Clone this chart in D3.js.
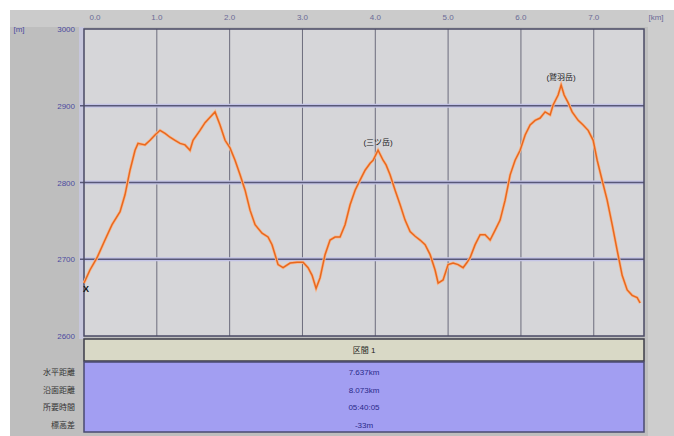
<!DOCTYPE html>
<html>
<head>
<meta charset="utf-8">
<script src="https://cdn.jsdelivr.net/npm/d3@7"></script>
<style>
  body { margin: 0; background: #fff; }
  text { font-family: "Liberation Sans", "Noto Sans CJK JP", sans-serif; }
</style>
</head>
<body>
<div id="chartDiv"></div>
<script>
// distance along route (km) and elevation (m)
var distKm = [0.000, 0.082, 0.179, 0.288, 0.385, 0.495, 0.563, 0.632, 0.701, 0.742,
              0.838, 0.907, 0.975, 1.044, 1.113, 1.181, 1.250, 1.319, 1.387, 1.456,
              1.497, 1.593, 1.662, 1.731, 1.799, 1.868, 1.937, 2.005, 2.074, 2.143,
              2.212, 2.280, 2.349, 2.445, 2.527, 2.582, 2.665, 2.734, 2.830, 2.926,
              3.008, 3.077, 3.132, 3.187, 3.242, 3.310, 3.379, 3.448, 3.516, 3.585,
              3.654, 3.723, 3.791, 3.860, 3.929, 3.970, 4.038, 4.107, 4.148, 4.203,
              4.272, 4.341, 4.409, 4.478, 4.547, 4.615, 4.684, 4.753, 4.821, 4.863,
              4.931, 5.000, 5.069, 5.137, 5.206, 5.261, 5.302, 5.371, 5.440, 5.508,
              5.577, 5.646, 5.714, 5.783, 5.852, 5.920, 5.989, 6.058, 6.126, 6.195,
              6.264, 6.332, 6.401, 6.442, 6.511, 6.552, 6.593, 6.648, 6.703, 6.786,
              6.854, 6.923, 6.992, 7.047, 7.115, 7.184, 7.253, 7.321, 7.390, 7.459,
              7.527, 7.596, 7.637];
var elevM = [2669, 2686, 2702, 2725, 2745, 2762, 2784, 2816, 2842, 2851,
             2849, 2855, 2862, 2868, 2864, 2859, 2855, 2851, 2849, 2842,
             2855, 2868, 2878, 2885, 2892, 2875, 2855, 2845, 2829, 2810,
             2790, 2764, 2745, 2734, 2729, 2719, 2693, 2689, 2695, 2696,
             2696, 2689, 2679, 2662, 2676, 2706, 2725, 2729, 2729, 2745,
             2771, 2790, 2803, 2816, 2825, 2829, 2842, 2829, 2823, 2810,
             2790, 2771, 2751, 2736, 2730, 2725, 2719, 2706, 2686, 2669,
             2673, 2693, 2695, 2693, 2689, 2696, 2702, 2719, 2732, 2732,
             2725, 2738, 2751, 2777, 2810, 2829, 2842, 2862, 2875, 2881,
             2884, 2892, 2888, 2901, 2914, 2927, 2914, 2904, 2892, 2881,
             2875, 2868, 2855, 2829, 2803, 2777, 2745, 2712, 2679, 2660,
             2653, 2650, 2643];

var xTicks = [0, 1, 2, 3, 4, 5, 6, 7];
var yTicks = [2600, 2700, 2800, 2900, 3000];

var peakNames = ["(三ツ岳)", "(鷲羽岳)"];
var peakKm = [4.038, 6.552];
var peakElev = [2842, 2927];

var rowLabels = ["水平距離", "沿面距離", "所要時間", "標高差"];
var rowValues = ["7.637km", "8.073km", "05:40:05", "-33m"];
var sectionName = "区間 1";

var width = 674, height = 436;
var plotL = 84, plotR = 644, plotT = 29, plotB = 336;

var svg = d3.select("#chartDiv").append("svg")
    .attr("width", width).attr("height", height);

// window backgrounds
svg.append("rect").attr("x", 10).attr("y", 10).attr("width", 664).attr("height", 426).attr("fill", "#bebebe");
svg.append("rect").attr("x", 10).attr("y", 10).attr("width", 664).attr("height", 17).attr("fill", "#cbcbcb");
svg.append("rect").attr("x", 648).attr("y", 10).attr("width", 26).attr("height", 426).attr("fill", "#cdcdcd");
svg.append("rect").attr("x", 79).attr("y", 27).attr("width", 5).attr("height", 312).attr("fill", "#c6c6dc");

var x = d3.scaleLinear().domain([0, 7.69]).range([plotL, plotR]);
var y = d3.scaleLinear().domain([2600, 3000]).range([plotB, plotT]);

// plot area
svg.append("rect").attr("x", plotL).attr("y", plotT)
    .attr("width", plotR - plotL).attr("height", plotB - plotT)
    .attr("fill", "#d6d6d9");

// grid
svg.selectAll("line.vgrid").data(xTicks.slice(1)).enter().append("line")
    .attr("x1", function(d) { return x(d); }).attr("x2", function(d) { return x(d); })
    .attr("y1", plotT).attr("y2", plotB)
    .attr("stroke", "#6c6c7c").attr("stroke-width", 1);

svg.selectAll("line.hglow").data(yTicks.slice(1, 4)).enter().append("line")
    .attr("x1", plotL - 4).attr("x2", plotR)
    .attr("y1", function(d) { return y(d); }).attr("y2", function(d) { return y(d); })
    .attr("stroke", "#c4c4e6").attr("stroke-width", 4);
svg.selectAll("line.hgrid").data(yTicks.slice(1, 4)).enter().append("line")
    .attr("x1", plotL - 4).attr("x2", plotR)
    .attr("y1", function(d) { return y(d); }).attr("y2", function(d) { return y(d); })
    .attr("stroke", "#585878").attr("stroke-width", 1.3);

// frame
svg.append("rect").attr("x", plotL).attr("y", plotT)
    .attr("width", plotR - plotL).attr("height", plotB - plotT)
    .attr("fill", "none").attr("stroke", "#4a4a64").attr("stroke-width", 1.5);

// axis labels
svg.selectAll("text.xt").data(xTicks).enter().append("text")
    .attr("x", function(d, i) { return x(d) + (i === 0 ? 11 : 0); })
    .attr("y", 20)
    .attr("text-anchor", "middle").attr("font-size", 8).attr("fill", "#6a6a96")
    .text(function(d) { return d.toFixed(1); });
svg.append("text").attr("x", 656).attr("y", 20).attr("text-anchor", "middle")
    .attr("font-size", 8).attr("fill", "#6a6a96").text("[km]");

svg.selectAll("text.yt").data(yTicks).enter().append("text")
    .attr("x", 75).attr("y", function(d) { return y(d) + 3; })
    .attr("text-anchor", "end").attr("font-size", 8).attr("fill", "#4c4ca0")
    .text(function(d) { return d; });
svg.append("text").attr("x", 19).attr("y", 32).attr("text-anchor", "middle")
    .attr("font-size", 8).attr("fill", "#4c4ca0").text("[m]");

// profile line
var line = d3.line()
    .x(function(d) { return x(d[0]); })
    .y(function(d) { return y(d[1]); });
var pts = distKm.map(function(d, i) { return [d, elevM[i]]; });
svg.append("path").datum(pts).attr("d", line)
    .attr("fill", "none").attr("stroke", "#f7b890").attr("stroke-width", 3);
svg.append("path").datum(pts).attr("d", line)
    .attr("fill", "none").attr("stroke", "#e8681e").attr("stroke-width", 1.5);

// start mark
svg.append("text").attr("x", x(distKm[0]) + 2).attr("y", y(elevM[0]) + 9)
    .attr("text-anchor", "middle").attr("font-size", 9).attr("font-weight", "bold")
    .attr("fill", "#111").text("X");

// peak names
svg.selectAll("text.peak").data(peakNames).enter().append("text")
    .attr("x", function(d, i) { return x(peakKm[i]); })
    .attr("y", function(d, i) { return y(peakElev[i]) - 5; })
    .attr("text-anchor", "middle").attr("font-size", 8).attr("fill", "#222")
    .attr("font-family", "Noto Sans CJK JP")
    .text(function(d) { return d; });

// section table
svg.append("rect").attr("x", plotL).attr("y", 339).attr("width", plotR - plotL).attr("height", 22)
    .attr("fill", "#d9d9c6").attr("stroke", "#3c3c48").attr("stroke-width", 1.5);
svg.append("text").attr("x", (plotL + plotR) / 2).attr("y", 353)
    .attr("text-anchor", "middle").attr("font-size", 8).attr("fill", "#222")
    .attr("font-family", "Noto Sans CJK JP").text(sectionName);

svg.append("rect").attr("x", plotL).attr("y", 362).attr("width", plotR - plotL).attr("height", 70)
    .attr("fill", "#a29ef2").attr("stroke", "#4a4a70").attr("stroke-width", 1.5);

svg.selectAll("text.rl").data(rowLabels).enter().append("text")
    .attr("x", 75).attr("y", function(d, i) { return 375 + i * 17.7; })
    .attr("text-anchor", "end").attr("font-size", 8).attr("fill", "#333")
    .attr("font-family", "Noto Sans CJK JP")
    .text(function(d) { return d; });

svg.selectAll("text.rv").data(rowValues).enter().append("text")
    .attr("x", (plotL + plotR) / 2).attr("y", function(d, i) { return 375 + i * 17.7; })
    .attr("text-anchor", "middle").attr("font-size", 8).attr("fill", "#2a2a8a")
    .text(function(d) { return d; });
</script>
</body>
</html>
